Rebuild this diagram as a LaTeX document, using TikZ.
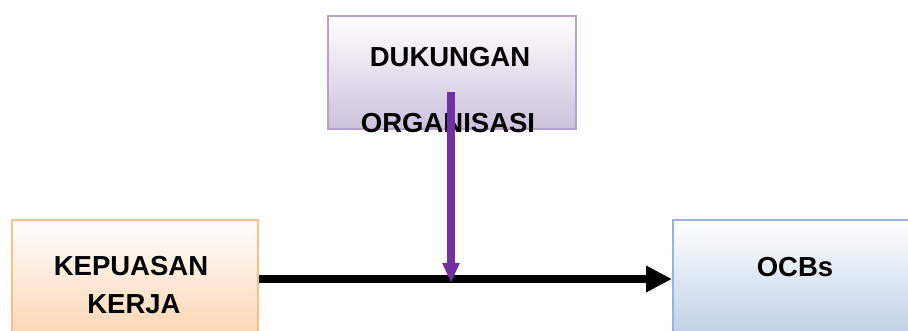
\documentclass[tikz,border=0pt]{standalone}
\usepackage{fontspec}
\setmainfont{Liberation Sans}
\usetikzlibrary{arrows.meta}
\definecolor{pborder}{HTML}{B5A3CB}
\definecolor{pfill}{HTML}{CDC1DC}
\definecolor{oborder}{HTML}{F9C08E}
\definecolor{ofill}{HTML}{FBD0AA}
\definecolor{bborder}{HTML}{98B5D9}
\definecolor{bfill}{HTML}{B5CAE3}
\definecolor{arrowpurple}{HTML}{7030A0}
\tikzset{
  boxnode/.style={draw, line width=1.8pt, inner sep=0pt, anchor=north west, top color=white},
  lbl/.style={font=\bfseries\fontsize{27.5}{32}\selectfont, text=black, inner sep=0pt, anchor=base},
  mainarrow/.style={line width=7.5pt, -{Triangle[length=26pt,width=25pt]}},
  modarrow/.style={line width=7.5pt, arrowpurple, -{Triangle[length=20pt,width=16pt]}}
}
\begin{document}
\begin{tikzpicture}[x=1pt,y=1pt]
\useasboundingbox (0,0) rectangle (908,-331);
\clip (0,0) rectangle (908,-331);
% boxes
\node[boxnode, draw=pborder, bottom color=pfill, minimum width=248pt, minimum height=113pt] (dukbox) at (327,-15) {};
\node[boxnode, draw=oborder, bottom color=ofill, minimum width=246pt, minimum height=130pt] (kepbox) at (11,-219) {};
\node[boxnode, draw=bborder, bottom color=bfill, minimum width=246pt, minimum height=130pt] (ocbbox) at (672,-219) {};
% labels
\node[lbl] (t1) at (450,-66.5) {DUKUNGAN};
\node[lbl] (t2) at (448,-132.5) {ORGANISASI};
\node[lbl] (t3) at (131,-275.5) {KEPUASAN};
\node[lbl] (t4) at (134,-313.5) {KERJA};
\node[lbl] (t5) at (795,-276.5) {OCBs};
% connectors
\draw[mainarrow] (kepbox.east |- 0,-279) -- (ocbbox.west |- 0,-279);
\coordinate (ps) at (451,-92);
\coordinate (pe) at (451,-283);
\draw[modarrow] (ps) -- (pe);
\end{tikzpicture}
\end{document}
